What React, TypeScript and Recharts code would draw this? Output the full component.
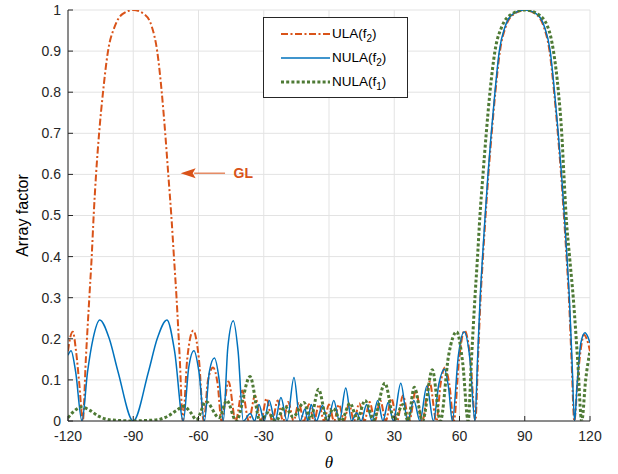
import React from 'react';
import { LineChart, Line, XAxis, YAxis, CartesianGrid, ReferenceLine, ReferenceDot, Legend } from 'recharts';

const thetaTicks = [-120, -90, -60, -30, 0, 30, 60, 90, 120];
const afTicks = [0, 0.1, 0.2, 0.3, 0.4, 0.5, 0.6, 0.7, 0.8, 0.9, 1];

// [theta (deg), array factor]
const ulaF2 = [
  [-120, 0.17], [-118.9, 0.205], [-117.8, 0.217], [-116.3, 0.17], [-114.8, 0.09], [-113.2, 0],
  [-111.8, 0.15], [-110.2, 0.3], [-109.1, 0.4], [-108.2, 0.5], [-107.1, 0.6], [-105.7, 0.7], [-103.9, 0.8],
  [-101.6, 0.9], [-98.5, 0.96], [-95, 0.99], [-90, 1], [-85, 0.99], [-81.5, 0.96], [-79, 0.9], [-76.9, 0.8],
  [-75.3, 0.7], [-73.9, 0.6], [-72.5, 0.5], [-71.3, 0.4], [-70.1, 0.3], [-68.6, 0.15], [-67.2, 0],
  [-65.2, 0.15], [-62.4, 0.22], [-59.8, 0.15], [-57.6, 0], [-55.6, 0.1], [-53.3, 0.13], [-51.2, 0.09], [-49.4, 0],
  [-46.2, 0.096], [-42.9, 0], [-39.9, 0.074], [-36.9, 0], [-34.0, 0.062], [-31.3, 0], [-28.7, 0.055], [-26.1, 0],
  [-23.6, 0.05], [-21.1, 0], [-18.7, 0.046], [-16.3, 0], [-13.9, 0.043], [-11.5, 0], [-9.2, 0.041], [-6.9, 0],
  [-4.6, 0.04], [-2.3, 0], [0, 0.04], [2.3, 0], [4.6, 0.04], [6.9, 0], [9.2, 0.041], [11.5, 0], [13.9, 0.043],
  [16.3, 0], [18.7, 0.046], [21.1, 0], [23.6, 0.05], [26.1, 0], [28.7, 0.055], [31.3, 0], [34, 0.062], [36.9, 0],
  [39.9, 0.074], [42.9, 0], [46.2, 0.096], [49.4, 0], [51.3, 0.09], [53.3, 0.13], [55.3, 0.09], [57.4, 0],
  [59.8, 0.15], [62.3, 0.22], [65, 0.15], [67.3, 0],
  [68.5, 0.15], [69.7, 0.3], [70.8, 0.4], [72, 0.5], [73.3, 0.6], [74.8, 0.7], [76.5, 0.8], [78.6, 0.9],
  [81.3, 0.96], [85, 0.99], [90, 1], [95, 0.99], [98.7, 0.96], [101.4, 0.9], [103.5, 0.8], [105.2, 0.7],
  [106.7, 0.6], [108, 0.5], [109.2, 0.4], [110.3, 0.3], [111.5, 0.15], [112.8, 0],
  [114.3, 0.1], [115.9, 0.18], [117.2, 0.21], [118.5, 0.2], [120, 0.17],
];

const nulaF2 = [
  [-120, 0.16], [-118.6, 0.171], [-116.5, 0.12], [-113.6, 0], [-111, 0.12], [-108.5, 0.2], [-105.4, 0.246],
  [-101, 0.2], [-97, 0.12], [-90, 0], [-83, 0.12], [-79, 0.2], [-74.5, 0.246], [-71, 0.17], [-67, 0],
  [-64.5, 0.13], [-62.1, 0.171], [-59.8, 0.12], [-57.3, 0], [-55, 0.12], [-52.7, 0.153], [-50.5, 0.1], [-48.6, 0],
  [-46.5, 0.18], [-44, 0.244], [-41.8, 0.17], [-39.4, 0], [-36.2, 0.018], [-34.2, 0], [-32.2, 0.04], [-29.8, 0],
  [-27.5, 0.05], [-24.8, 0], [-22.1, 0.057], [-19.3, 0], [-16.1, 0.106], [-13.3, 0], [-11, 0.03], [-9.8, 0],
  [-8.2, 0.04], [-5.8, 0], [-3, 0.038], [-0.5, 0], [2.2, 0.05], [4.8, 0], [7.7, 0.08], [10.4, 0], [12.7, 0.02],
  [14.8, 0], [17.3, 0.04], [19.8, 0], [22.4, 0.05], [24.8, 0], [27.2, 0.045], [29.6, 0], [33, 0.092], [36.2, 0],
  [39, 0.05], [41.8, 0], [45, 0.085], [48, 0], [50.5, 0.09], [53, 0.126], [55, 0.08], [56.7, 0],
  [59.5, 0.16], [62.1, 0.217], [64.8, 0.15], [67.1, 0],
  [68.3, 0.15], [69.5, 0.3], [70.6, 0.4], [71.8, 0.5], [73.1, 0.6], [74.6, 0.7], [76.3, 0.8], [78.3, 0.9],
  [81, 0.96], [84.5, 0.99], [90, 1], [95.5, 0.99], [99, 0.96], [101.7, 0.9], [103.7, 0.8], [105.4, 0.7],
  [106.9, 0.6], [108.2, 0.5], [109.4, 0.4], [110.5, 0.3], [111.7, 0.15], [112.9, 0],
  [114.2, 0.1], [115.8, 0.19], [117.7, 0.215], [119, 0.205], [120, 0.19],
];

const nulaF1 = [
  [-120, 0.008], [-117, 0.025], [-113.6, 0.034], [-110, 0.026], [-106, 0.012], [-101, 0.003], [-95, 0.001],
  [-90, 0], [-85, 0.001], [-79, 0.003], [-74, 0.012], [-70, 0.026], [-66.8, 0.036], [-63.5, 0.02], [-61, 0.003],
  [-56.5, 0.047], [-50.5, 0.008], [-47, 0.05], [-42.7, 0], [-36.3, 0.108], [-31.7, 0], [-28, 0.02], [-24.5, 0],
  [-20.2, 0.035], [-16.5, 0.01], [-11.5, 0.045], [-8.5, 0.005], [-4.8, 0.077], [-1, 0.005], [2, 0.03], [5.5, 0],
  [9.7, 0.043], [13, 0.005], [16.6, 0.05], [20.5, 0.003], [25.7, 0.092], [30, 0.003], [34, 0.04], [36.3, 0],
  [39.2, 0.082], [43, 0], [47.5, 0.125], [51.2, 0], [55, 0.16], [58.7, 0.217], [61.5, 0.14], [64, 0],
  [65.5, 0.15], [67.1, 0.3], [68.3, 0.4], [69.4, 0.5], [70.8, 0.6], [72.3, 0.7], [74, 0.8], [76.3, 0.9],
  [79.5, 0.96], [84, 0.99], [90, 1], [96, 0.99], [100.5, 0.96], [103.2, 0.9], [105.5, 0.8], [107, 0.7],
  [108, 0.6], [109, 0.5], [110.6, 0.4], [112.3, 0.3], [114.3, 0.15], [116.2, 0], [118, 0.1], [120, 0.17],
];

const toRows = (pairs: number[][]) => pairs.map(([t, v]) => ({ t, v }));

const FONT = '"Liberation Sans", Arial, Helvetica, sans-serif';
const AXIS = '#262626';
const C_ULA = '#D95319';
const C_N2 = '#0072BD';
const C_N1 = '#4E7A35';

const legendItems = [
  { name: 'ULA', sub: '2', color: C_ULA, dash: '7 2.5 2 2.5', w: 2 },
  { name: 'NULA', sub: '2', color: C_N2, dash: undefined, w: 1.5 },
  { name: 'NULA', sub: '1', color: C_N1, dash: '3 2.2', w: 3 },
];

const LegendBox = () => (
  <div
    style={{
      width: 145, height: 81, boxSizing: 'border-box', border: `1px solid ${AXIS}`, background: '#fff',
      fontFamily: FONT, fontSize: 13.5, color: '#000', paddingTop: 4,
    }}
  >
    {legendItems.map((it, i) => (
      <div key={i} style={{ display: 'flex', alignItems: 'center', height: 24 }}>
        <svg width={68} height={10} style={{ display: 'block' }}>
          <line x1={17} x2={66} y1={5} y2={5} stroke={it.color} strokeWidth={it.w} strokeDasharray={it.dash} />
        </svg>
        <span style={{ lineHeight: '14px' }}>
          {it.name}(f<sub style={{ fontSize: 10, verticalAlign: '-4px', lineHeight: 0 }}>{it.sub}</sub>)
        </span>
      </div>
    ))}
  </div>
);

const YLabel = (props: any) => {
  const vb = props.viewBox || {};
  const cx = (vb.x ?? 0) + 14;
  const cy = (vb.y ?? 0) + (vb.height ?? 0) / 2;
  return (
    <text x={cx} y={cy} transform={`rotate(-90, ${cx}, ${cy})`} textAnchor="middle" dominantBaseline="central"
      fontFamily={FONT} fontSize={16} fill="#000">
      Array factor
    </text>
  );
};

const XLabel = (props: any) => {
  const vb = props.viewBox || {};
  const cx = (vb.x ?? 0) + (vb.width ?? 0) / 2;
  const cy = (vb.y ?? 0) + 41;
  return (
    <text x={cx} y={cy} textAnchor="middle" dominantBaseline="central" fontFamily='"Liberation Serif", "DejaVu Serif", serif'
      fontStyle="italic" fontSize={17} fill="#000">
      θ
    </text>
  );
};

const ArrowHead = (p: any) => {
  const { cx, cy } = p;
  return <path d={`M${cx},${cy} L${cx + 15},${cy - 5} L${cx + 12},${cy} L${cx + 15},${cy + 5} Z`} fill={C_ULA} stroke="none" />;
};

const GLText = (p: any) => (
  <text x={p.cx} y={p.cy} textAnchor="middle" dominantBaseline="central" fontFamily={FONT} fontWeight="bold"
    fontSize={14} fill={C_ULA}>
    GL
  </text>
);

export default function App() {
  return (
    <div style={{ position: 'absolute', left: 0, top: 0, width: 618, height: 474, background: '#fff' }}>
      <LineChart width={618} height={474} margin={{ top: 10, right: 28, bottom: 25, left: 8 }}>
        <CartesianGrid stroke="#e3e3e3" strokeWidth={1} />
        <XAxis dataKey="t" type="number" domain={[-120, 120]} ticks={thetaTicks} interval={0} allowDataOverflow
          height={28} tickSize={-5} tickMargin={15} stroke={AXIS}
          tick={{ fill: '#262626', fontFamily: FONT, fontSize: 14 }} label={XLabel} />
        <XAxis xAxisId="top" orientation="top" dataKey="t" type="number" domain={[-120, 120]} ticks={thetaTicks}
          interval={0} allowDataOverflow height={0} tickSize={-5} tick={false} stroke={AXIS} />
        <YAxis type="number" domain={[0, 1]} ticks={afTicks} interval={0} allowDataOverflow width={60}
          tickSize={-5} tickMargin={12} stroke={AXIS}
          tick={{ fill: '#262626', fontFamily: FONT, fontSize: 14 }} label={YLabel} />
        <YAxis yAxisId="right" orientation="right" type="number" domain={[0, 1]} ticks={afTicks} interval={0}
          allowDataOverflow width={0} tickSize={-5} tick={false} stroke={AXIS} />
        <Line data={toRows(ulaF2)} dataKey="v" type="monotone" stroke={C_ULA} strokeWidth={2}
          strokeDasharray="7 2.5 2 2.5" dot={false} activeDot={false} isAnimationActive={false} name="ULA(f2)" />
        <Line data={toRows(nulaF2)} dataKey="v" type="monotone" stroke={C_N2} strokeWidth={1.5}
          dot={false} activeDot={false} isAnimationActive={false} name="NULA(f2)" />
        <Line data={toRows(nulaF1)} dataKey="v" type="monotone" stroke={C_N1} strokeWidth={3}
          strokeDasharray="3 2.2" dot={false} activeDot={false} isAnimationActive={false} name="NULA(f1)" />
        <ReferenceLine segment={[{ x: -62, y: 0.603 }, { x: -47.8, y: 0.603 }]} stroke={C_ULA} strokeWidth={1} />
        <ReferenceDot x={-68.2} y={0.603} r={0} shape={ArrowHead} />
        <ReferenceDot x={-39.4} y={0.603} r={0} shape={GLText} />
        <Legend layout="vertical" align="center" verticalAlign="middle" content={LegendBox}
          wrapperStyle={{ left: 263, top: 17, width: 145, height: 81 }} />
      </LineChart>
    </div>
  );
}
